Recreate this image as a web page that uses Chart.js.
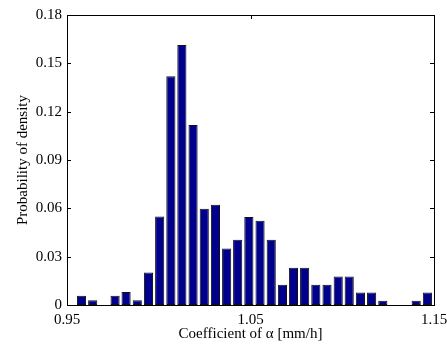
<!DOCTYPE html>
<html>
<head>
<meta charset="utf-8">
<script src="https://cdn.jsdelivr.net/npm/chart.js@4/dist/chart.umd.min.js"></script>
<style>
html,body{margin:0;padding:0;background:#fff;}
#wrap{width:447px;height:345px;position:relative;}
</style>
</head>
<body>
<div id="wrap"><canvas id="c" width="447" height="345"></canvas></div>
<script>
// Bin centres (coefficient of alpha, mm/h)
const binCenters = [
  0.9579, 0.9640, 0.9701, 0.9762, 0.9822, 0.9883, 0.9944, 1.0005,
  1.0066, 1.0126, 1.0187, 1.0248, 1.0309, 1.0370, 1.0430, 1.0491,
  1.0552, 1.0613, 1.0674, 1.0734, 1.0795, 1.0856, 1.0917, 1.0978,
  1.1038, 1.1099, 1.1160, 1.1221, 1.1282, 1.1342, 1.1403, 1.1464
];
// Probability of density per bin
const probValues = [
  0.0058, 0.0029, 0.0000, 0.0058, 0.0081, 0.0029, 0.0202, 0.0549,
  0.1420, 0.1614, 0.1118, 0.0597, 0.0622, 0.0351, 0.0405, 0.0546,
  0.0523, 0.0405, 0.0126, 0.0231, 0.0231, 0.0126, 0.0126, 0.0177,
  0.0177, 0.0078, 0.0078, 0.0027, 0.0000, 0.0000, 0.0027, 0.0078
];
const xTickVals = [0.95, 1.05, 1.15];
const yTickVals = [0, 0.03, 0.06, 0.09, 0.12, 0.15, 0.18];
const xTitle = 'Coefficient of \u03B1 [mm/h]';
const yTitle = 'Probability of density';

const FONT = 'Liberation Serif';

const boxPlugin = {
  id: 'boxTicks',
  afterDatasetsDraw(chart) {
    const {ctx, chartArea: a, scales: {x, y}} = chart;
    ctx.save();
    ctx.strokeStyle = '#000';
    ctx.lineWidth = 1;
    ctx.strokeRect(Math.round(a.left) + 0.5, Math.round(a.top) + 0.5,
      Math.round(a.right - a.left), Math.round(a.bottom - a.top));
    const tl = 4;
    ctx.beginPath();
    xTickVals.forEach(v => {
      const px = Math.round(x.getPixelForValue(v)) + 0.5;
      ctx.moveTo(px, a.bottom); ctx.lineTo(px, a.bottom - tl);
      ctx.moveTo(px, a.top); ctx.lineTo(px, a.top + tl);
    });
    yTickVals.forEach(v => {
      const py = Math.round(y.getPixelForValue(v)) + 0.5;
      ctx.moveTo(a.left, py); ctx.lineTo(a.left + tl, py);
      ctx.moveTo(a.right, py); ctx.lineTo(a.right - tl, py);
    });
    ctx.stroke();
    ctx.restore();
  }
};

new Chart(document.getElementById('c'), {
  type: 'bar',
  data: {
    datasets: [{
      data: binCenters.map((c, i) => ({x: c, y: probValues[i]})),
      backgroundColor: '#00008C',
      borderColor: '#111111',
      borderWidth: 1,
      borderSkipped: false,
      categoryPercentage: 1.0,
      barPercentage: 0.83
    }]
  },
  options: {
    responsive: false,
    animation: false,
    devicePixelRatio: 1,
    layout: {padding: {left: 0, right: 13, top: 15, bottom: 0}},
    plugins: {legend: {display: false}, tooltip: {enabled: false}},
    scales: {
      x: {
        type: 'linear',
        min: 0.95, max: 1.15,
        offset: false,
        grid: {display: false, drawTicks: false},
        border: {display: false},
        afterBuildTicks(s) { s.ticks = xTickVals.map(v => ({value: v})); },
        afterFit(s) { s.height = 40; s.paddingLeft = 0; s.paddingRight = 0; },
        ticks: {
          autoSkip: false, maxRotation: 0, padding: 6,
          color: '#000',
          font: {family: FONT, size: 15},
          callback: v => v.toFixed(2)
        },
        title: {display: true, text: xTitle, color: '#000',
          font: {family: FONT, size: 15}, padding: {top: 0, bottom: 2}}
      },
      y: {
        min: 0, max: 0.18,
        grid: {display: false, drawTicks: false},
        border: {display: false},
        afterBuildTicks(s) { s.ticks = yTickVals.map(v => ({value: v})); },
        afterFit(s) { s.width = 67; s.paddingTop = 0; s.paddingBottom = 0; },
        ticks: {
          autoSkip: false, padding: 5,
          color: '#000',
          font: {family: FONT, size: 15},
          callback: v => v === 0 ? '0' : v.toFixed(2)
        },
        title: {display: true, text: yTitle, color: '#000',
          font: {family: FONT, size: 15}, padding: {top: 14, bottom: 0}}
      }
    }
  },
  plugins: [boxPlugin]
});
</script>
</body>
</html>
